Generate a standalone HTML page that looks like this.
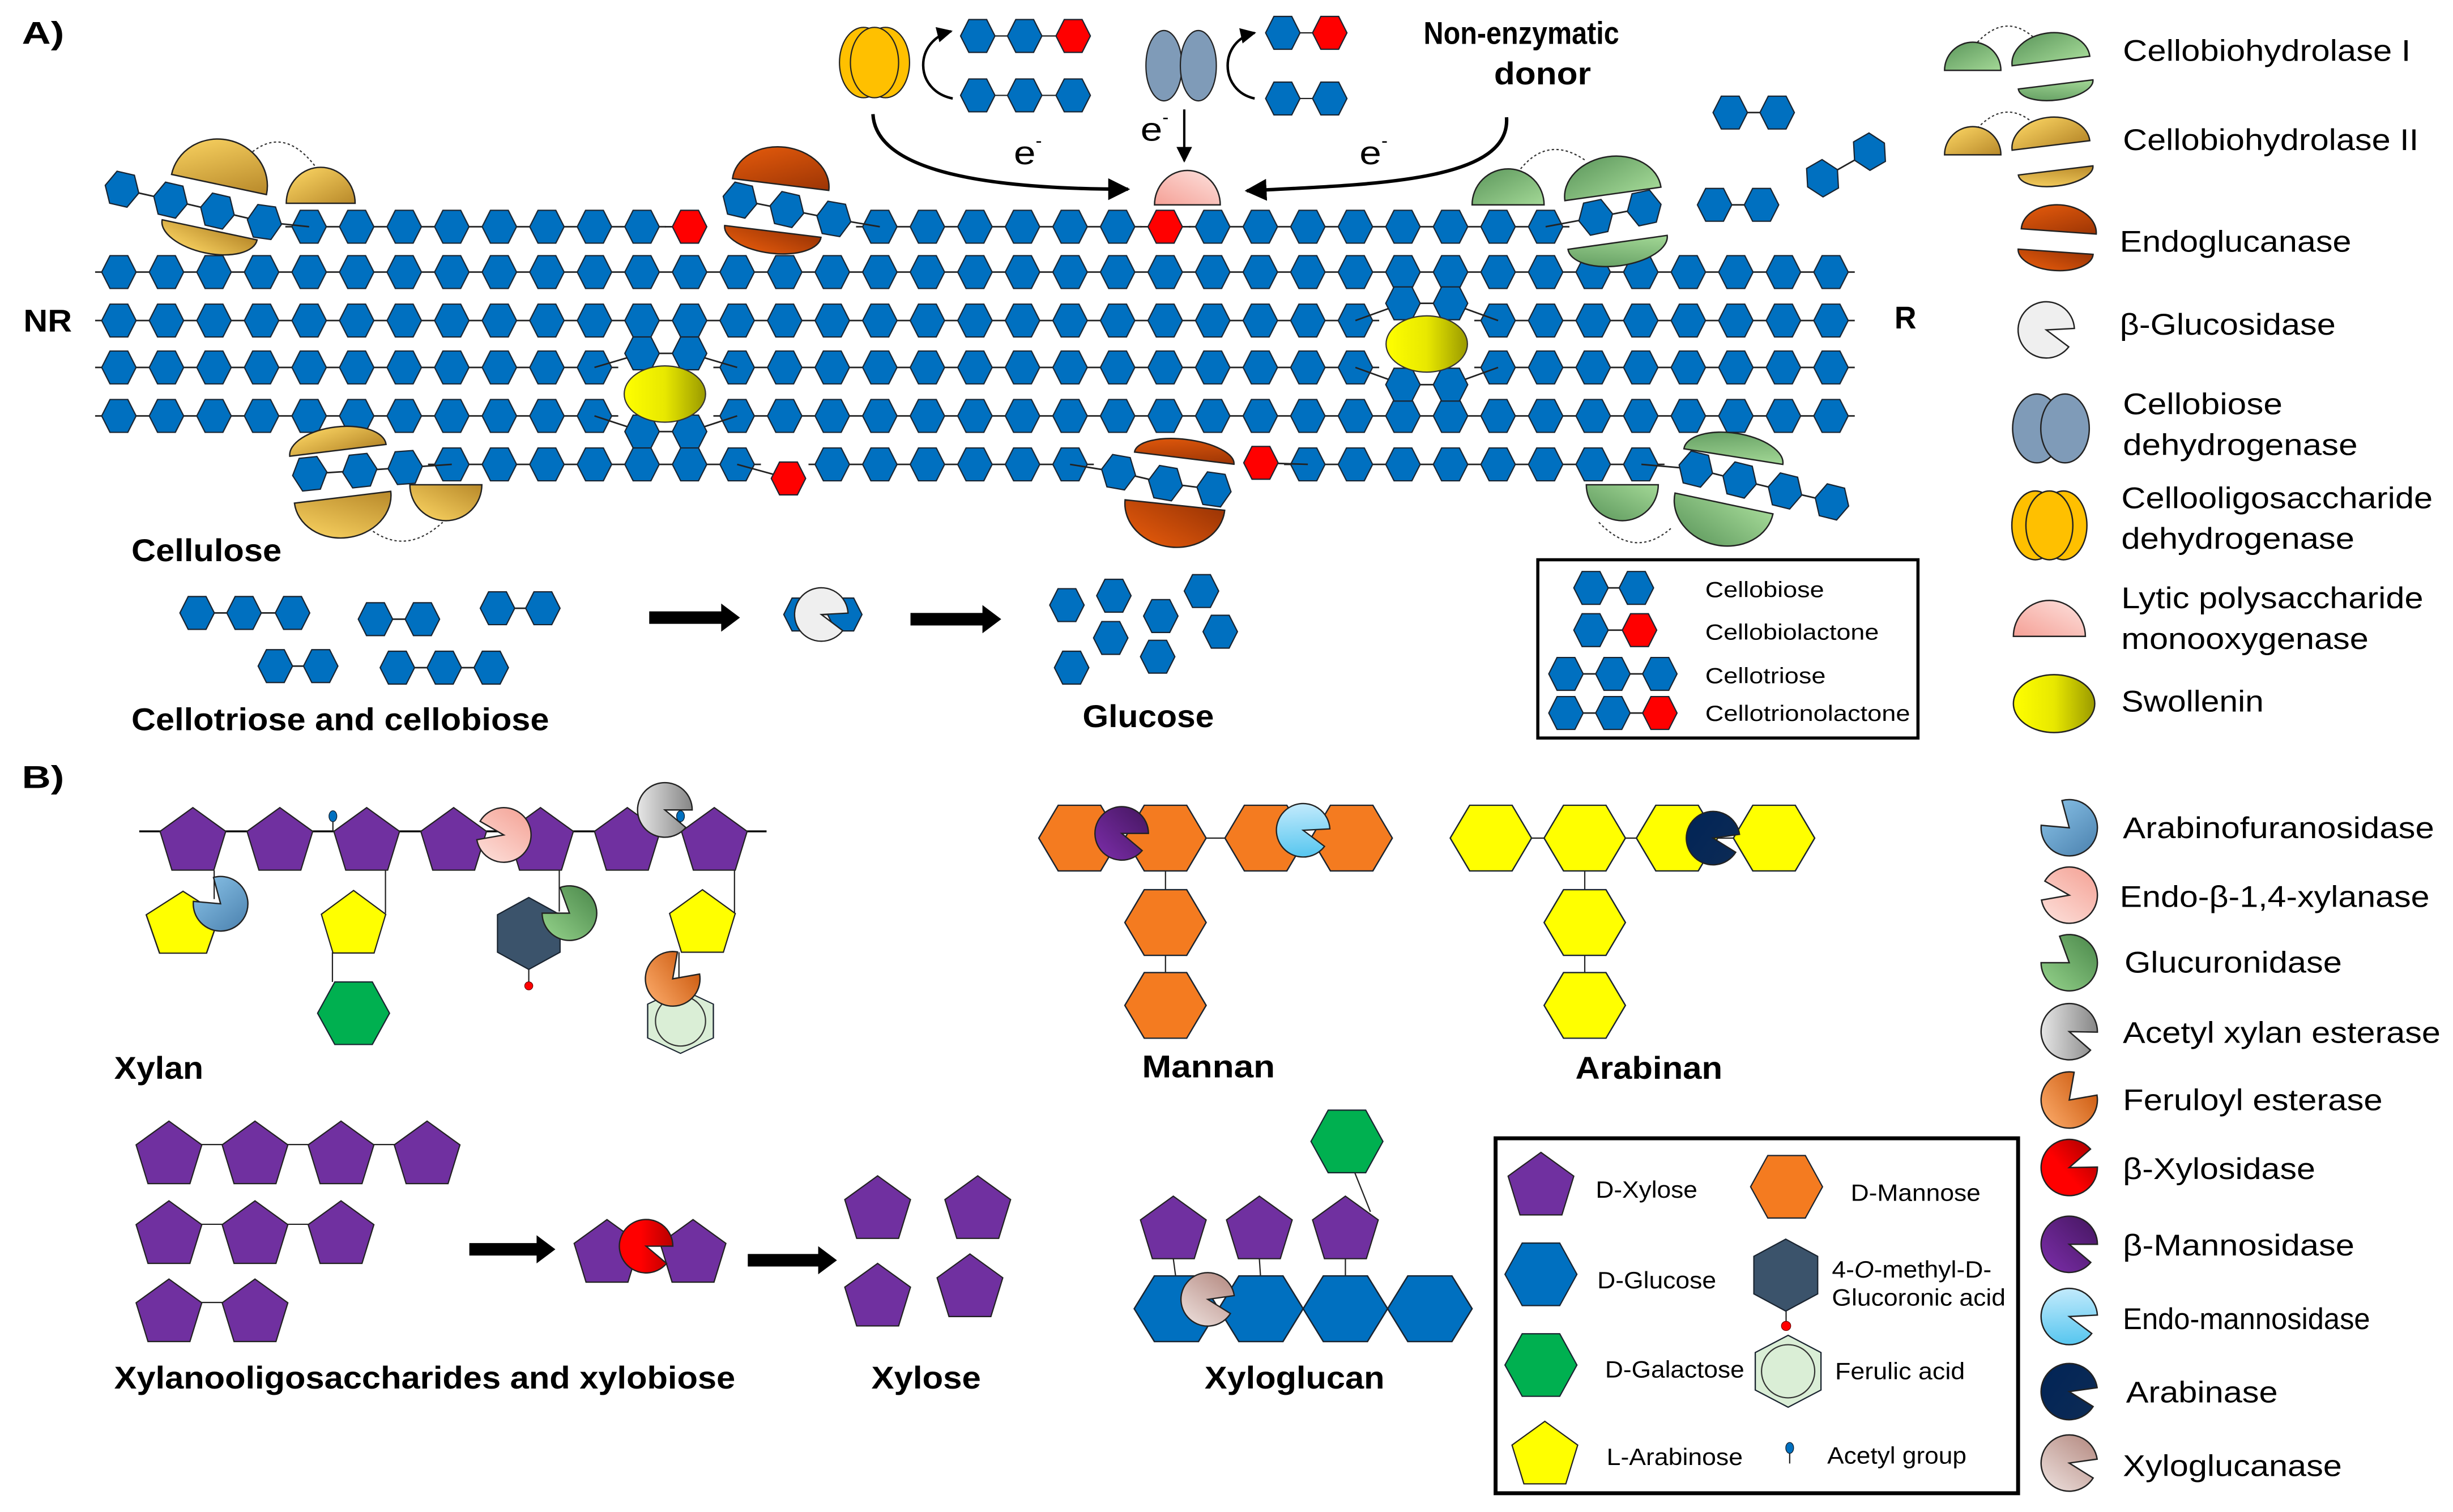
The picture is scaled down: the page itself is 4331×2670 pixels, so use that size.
<!DOCTYPE html>
<html><head><meta charset="utf-8"><style>
html,body{margin:0;padding:0;background:#fff;}
svg{display:block;}
text{font-family:"Liberation Sans",Arial,sans-serif;fill:#000;}
.b{font-weight:bold;font-size:20px;}
.l{font-size:19px;}
.s{font-size:14px;}
.m{font-size:15px;}
</style></head><body>
<svg xmlns="http://www.w3.org/2000/svg" xmlns:xlink="http://www.w3.org/1999/xlink" width="4331" height="2670" viewBox="0 0 1568 967" preserveAspectRatio="none">
<defs>
<linearGradient id="gold" x1="0" y1="0" x2="1" y2="1"><stop offset="0" stop-color="#ffd966"/><stop offset="1" stop-color="#b8892a"/></linearGradient>
<linearGradient id="orng" x1="0" y1="0" x2="1" y2="1"><stop offset="0" stop-color="#ea5d0c"/><stop offset="1" stop-color="#9c3505"/></linearGradient>
<linearGradient id="grn" x1="0" y1="0" x2="1" y2="1"><stop offset="0" stop-color="#5b965b"/><stop offset="1" stop-color="#a3d896"/></linearGradient>
<linearGradient id="yel" x1="0" y1="0" x2="1" y2="0"><stop offset="0" stop-color="#ffff00"/><stop offset="0.5" stop-color="#e8e800"/><stop offset="1" stop-color="#9a9a00"/></linearGradient>
<linearGradient id="pink" x1="0" y1="1" x2="1" y2="0"><stop offset="0" stop-color="#f5a096"/><stop offset="1" stop-color="#fde2de"/></linearGradient>
<linearGradient id="gArab" x1="0" y1="0" x2="1" y2="1"><stop offset="0" stop-color="#4a80ad"/><stop offset="1" stop-color="#8cc5ea"/></linearGradient>
<linearGradient id="gXyl" x1="0" y1="1" x2="1" y2="0"><stop offset="0" stop-color="#f4a093"/><stop offset="1" stop-color="#fde2dd"/></linearGradient>
<linearGradient id="gGlu" x1="0" y1="1" x2="1" y2="0"><stop offset="0" stop-color="#4a874a"/><stop offset="1" stop-color="#96d48c"/></linearGradient>
<linearGradient id="gAce" x1="0" y1="0" x2="1" y2="0"><stop offset="0" stop-color="#e6e6e6"/><stop offset="1" stop-color="#858585"/></linearGradient>
<linearGradient id="gFer" x1="0" y1="0" x2="1" y2="1"><stop offset="0" stop-color="#ffb070"/><stop offset="1" stop-color="#c44d00"/></linearGradient>
<linearGradient id="gBx" x1="0" y1="0" x2="1" y2="0"><stop offset="0.4" stop-color="#ff0000"/><stop offset="1" stop-color="#b80000"/></linearGradient>
<linearGradient id="gMan" x1="0" y1="1" x2="1" y2="0"><stop offset="0" stop-color="#7d2eab"/><stop offset="1" stop-color="#44165f"/></linearGradient>
<linearGradient id="gEm" x1="0" y1="0" x2="0" y2="1"><stop offset="0" stop-color="#c2eafc"/><stop offset="1" stop-color="#56c6ef"/></linearGradient>
<linearGradient id="gAra" x1="0" y1="0" x2="1" y2="1"><stop offset="0" stop-color="#012456"/><stop offset="1" stop-color="#0d2b55"/></linearGradient>
<linearGradient id="gXg" x1="0" y1="1" x2="1" y2="0"><stop offset="0" stop-color="#efe3e0"/><stop offset="1" stop-color="#b2867d"/></linearGradient>
<marker id="ah" viewBox="0 0 10 10" refX="9" refY="5" markerUnits="userSpaceOnUse" markerWidth="14" markerHeight="14" orient="auto"><path d="M0,0 L10,5 L0,10 z" fill="#000"/></marker>
<marker id="ahs" viewBox="0 0 10 10" refX="9" refY="5" markerUnits="userSpaceOnUse" markerWidth="10" markerHeight="10" orient="auto"><path d="M0,0 L10,5 L0,10 z" fill="#000"/></marker>
<polygon id="h" points="-11,0 -5.7,-10.5 5.7,-10.5 11,0 5.7,10.5 -5.7,10.5" stroke="#1a2430" stroke-width="0.8"/>
<polygon id="H" points="-23,0 -12,-20 12,-20 23,0 12,20 -12,20" stroke="#1a2430" stroke-width="0.8"/>
<polygon id="V" points="0,-23 20,-12 20,12 0,23 -20,12 -20,-12" stroke="#1a2430" stroke-width="0.8"/>
<polygon id="P" points="0,0 21,15.2 13.4,40 -13.4,40 -21,15.2" stroke="#222" stroke-width="0.8"/>
<path id="pc" d="M0,0 L18,0 A18,18 0 1 0 13.79,11.57 Z" stroke="#222" stroke-width="0.9"/>
<path id="pw" d="M0,0 L18,0 A18,18 0 1 0 6.16,16.91 Z" stroke="#222" stroke-width="0.9"/>
<pattern id="rowP" patternUnits="userSpaceOnUse" x="60.8" y="-15" width="30.4" height="30">
<line x1="0" y1="15" x2="30.4" y2="15" stroke="#222" stroke-width="1"/>
<polygon transform="translate(15.2,15)" points="-11,0 -5.7,-10.5 5.7,-10.5 11,0 5.7,10.5 -5.7,10.5" fill="#0070c0" stroke="#1a2430" stroke-width="0.8"/>
</pattern>
</defs>

<!-- ===== cellulose rows ===== -->
<g transform="translate(0,174)"><rect x="60.8" y="-12" width="1124.8" height="24" fill="url(#rowP)"/></g>
<g transform="translate(0,205)"><rect x="60.8" y="-12" width="820.8" height="24" fill="url(#rowP)"/><rect x="942.4" y="-12" width="243.2" height="24" fill="url(#rowP)"/></g>
<g transform="translate(0,235)"><rect x="60.8" y="-12" width="334.4" height="24" fill="url(#rowP)"/><rect x="456" y="-12" width="425.6" height="24" fill="url(#rowP)"/><rect x="942.4" y="-12" width="243.2" height="24" fill="url(#rowP)"/></g>
<g transform="translate(0,266)"><rect x="60.8" y="-12" width="334.4" height="24" fill="url(#rowP)"/><rect x="456" y="-12" width="729.6" height="24" fill="url(#rowP)"/></g>
<g stroke="#222" stroke-width="1" fill="none">
<polyline points="866.4,205 896.8,194 927.2,194 957.6,205"/>
<polyline points="866.4,235 896.8,246 927.2,246 957.6,235"/>
<polyline points="380,235 410.4,226 440.8,226 471.2,235"/>
<polyline points="380,266 410.4,276 440.8,276 471.2,266"/>
</g>
<use href="#h" x="896.8" y="194" fill="#0070c0"/><use href="#h" x="927.2" y="194" fill="#0070c0"/>
<use href="#h" x="896.8" y="246" fill="#0070c0"/><use href="#h" x="927.2" y="246" fill="#0070c0"/>
<use href="#h" x="410.4" y="226" fill="#0070c0"/><use href="#h" x="440.8" y="226" fill="#0070c0"/>
<use href="#h" x="410.4" y="276" fill="#0070c0"/><use href="#h" x="440.8" y="276" fill="#0070c0"/>

<!-- top row -->
<g transform="translate(0,145)"><rect x="182.4" y="-12" width="243.2" height="24" fill="url(#rowP)"/><rect x="547.2" y="-12" width="182.4" height="24" fill="url(#rowP)"/><rect x="760" y="-12" width="243.2" height="24" fill="url(#rowP)"/></g>
<g stroke="#222" stroke-width="1" fill="none">
<polyline points="78,121 109,128 139,135 169,142 197.6,145"/>
<line x1="425" y1="145" x2="440.8" y2="145"/>
<polyline points="473,128 503,134 533,140 562.4,145"/>
<line x1="729" y1="145" x2="761" y2="145"/>
<polyline points="988,145 1020,139 1051,133"/>
</g>
<use href="#h" transform="translate(78,121) rotate(13)" fill="#0070c0"/>
<use href="#h" transform="translate(109,128) rotate(13)" fill="#0070c0"/>
<use href="#h" transform="translate(139,135) rotate(13)" fill="#0070c0"/>
<use href="#h" transform="translate(169,142) rotate(8)" fill="#0070c0"/>
<use href="#h" x="440.8" y="145" fill="#ff0000"/>
<use href="#h" transform="translate(473,128) rotate(13)" fill="#0070c0"/>
<use href="#h" transform="translate(503,134) rotate(13)" fill="#0070c0"/>
<use href="#h" transform="translate(533,140) rotate(10)" fill="#0070c0"/>
<use href="#h" x="744.8" y="145" fill="#ff0000"/>
<use href="#h" transform="translate(1020,139) rotate(-12)" fill="#0070c0"/>
<use href="#h" transform="translate(1051,133) rotate(-12)" fill="#0070c0"/>

<!-- bottom row -->
<g transform="translate(0,297)"><rect x="273.6" y="-12" width="212.8" height="24" fill="url(#rowP)"/><rect x="516.8" y="-12" width="182.4" height="24" fill="url(#rowP)"/><rect x="820.8" y="-12" width="243.2" height="24" fill="url(#rowP)"/></g>
<g stroke="#222" stroke-width="1" fill="none">
<polyline points="198,303 230,301 259,299 288.8,297"/>
<line x1="471.2" y1="297" x2="504" y2="306"/>
<polyline points="684,297 715,302 745,309 776,313"/>
<line x1="806" y1="296" x2="836" y2="297"/>
<polyline points="1049.2,297 1084,300 1112,307 1141,314 1171,321"/>
</g>
<use href="#h" transform="translate(198,303) rotate(-6)" fill="#0070c0"/>
<use href="#h" transform="translate(230,301) rotate(-6)" fill="#0070c0"/>
<use href="#h" transform="translate(259,299) rotate(-4)" fill="#0070c0"/>
<use href="#h" x="504" y="306" fill="#ff0000"/>
<use href="#h" transform="translate(715,302) rotate(10)" fill="#0070c0"/>
<use href="#h" transform="translate(745,309) rotate(10)" fill="#0070c0"/>
<use href="#h" transform="translate(776,313) rotate(8)" fill="#0070c0"/>
<use href="#h" x="806" y="296" fill="#ff0000"/>
<use href="#h" transform="translate(1084,300) rotate(14)" fill="#0070c0"/>
<use href="#h" transform="translate(1112,307) rotate(14)" fill="#0070c0"/>
<use href="#h" transform="translate(1141,314) rotate(14)" fill="#0070c0"/>
<use href="#h" transform="translate(1171,321) rotate(14)" fill="#0070c0"/>

<!-- free cellobiose -->
<g stroke="#222" stroke-width="1"><line x1="1106" y1="72" x2="1136" y2="72"/><line x1="1096" y1="131" x2="1126" y2="131"/><line x1="1165" y1="114" x2="1195" y2="97"/></g>
<use href="#h" x="1106" y="72" fill="#0070c0"/><use href="#h" x="1136" y="72" fill="#0070c0"/>
<use href="#h" x="1096" y="131" fill="#0070c0"/><use href="#h" x="1126" y="131" fill="#0070c0"/>
<use href="#h" transform="translate(1165,114) rotate(-30)" fill="#0070c0"/><use href="#h" transform="translate(1195,97) rotate(-30)" fill="#0070c0"/>

<!-- swollenins -->
<ellipse cx="425" cy="252" rx="26" ry="18" fill="url(#yel)" stroke="#333" stroke-width="0.8"/>
<ellipse cx="912" cy="220" rx="26" ry="18" fill="url(#yel)" stroke="#333" stroke-width="0.8"/>

<!-- enzyme pieces -->
<g stroke="#222" stroke-width="0.9">
<path d="M157,101 Q180,78 202,107" fill="none" stroke="#333" stroke-width="0.8" stroke-dasharray="1.5,1.5"/>
<path d="M-31,0 A31,29 0 0 1 31,0 Z" transform="translate(140,118) rotate(12)" fill="url(#gold)"/>
<path d="M-31,0 A31,15 0 0 1 31,0 Z" transform="translate(134,147) rotate(12) scale(1,-1)" fill="url(#gold)"/>
<path d="M-22,0 A22,23 0 0 1 22,0 Z" transform="translate(205,130)" fill="url(#gold)"/>

<path d="M-31,0 A31,24 0 0 1 31,0 Z" transform="translate(499,118) rotate(7)" fill="url(#orng)"/>
<path d="M-31,0 A31,14 0 0 1 31,0 Z" transform="translate(494,148) rotate(7) scale(1,-1)" fill="url(#orng)"/>

<path d="M-21,0 A21,22 0 0 1 21,0 Z" transform="translate(759,131)" fill="url(#pink)"/>

<path d="M972,108 Q990,86 1014,103" fill="none" stroke="#333" stroke-width="0.8" stroke-dasharray="1.5,1.5"/>
<path d="M-23,0 A23,23 0 0 1 23,0 Z" transform="translate(964,131)" fill="url(#grn)"/>
<path d="M-31,0 A31,24 0 0 1 31,0 Z" transform="translate(1031,124) rotate(-8)" fill="url(#grn)"/>
<path d="M-32,0 A32,15 0 0 1 32,0 Z" transform="translate(1034,155) rotate(-8) scale(1,-1)" fill="url(#grn)"/>

<path d="M-32,0 A32,12 0 0 1 32,0 Z" transform="translate(757,293) rotate(7)" fill="url(#orng)"/>
<path d="M-32,0 A32,27 0 0 1 32,0 Z" transform="translate(751,323) rotate(6) scale(1,-1)" fill="url(#orng)"/>

<path d="M236,338 Q259,356 283,334" fill="none" stroke="#333" stroke-width="0.8" stroke-dasharray="1.5,1.5"/>
<path d="M-31,0 A31,15 0 0 1 31,0 Z" transform="translate(216,288) rotate(-7)" fill="url(#gold)"/>
<path d="M-31,0 A31,26 0 0 1 31,0 Z" transform="translate(219,318) rotate(-7) scale(1,-1)" fill="url(#gold)"/>
<path d="M-23,0 A23,23 0 0 1 23,0 Z" transform="translate(285,310) scale(1,-1)" fill="url(#gold)"/>

<path d="M1022,334 Q1045,358 1068,338" fill="none" stroke="#333" stroke-width="0.8" stroke-dasharray="1.5,1.5"/>
<path d="M-32,0 A32,15 0 0 1 32,0 Z" transform="translate(1108,292) rotate(9)" fill="url(#grn)"/>
<path d="M-32,0 A32,27 0 0 1 32,0 Z" transform="translate(1102,322) rotate(12) scale(1,-1)" fill="url(#grn)"/>
<path d="M-23,0 A23,23 0 0 1 23,0 Z" transform="translate(1037,310) scale(1,-1)" fill="url(#grn)"/>
</g>

<!-- CODH & CDH top -->
<g stroke="#222" stroke-width="0.8">
<ellipse cx="552" cy="40" rx="15.4" ry="22.5" fill="#ffc000"/>
<ellipse cx="566" cy="40" rx="15.4" ry="22.5" fill="#ffc000"/>
<ellipse cx="559" cy="40" rx="15.4" ry="22.5" fill="#ffc000"/>
<ellipse cx="744" cy="42" rx="11.5" ry="22.5" fill="#7f9bb8"/>
<ellipse cx="766" cy="42" rx="11.5" ry="22.5" fill="#7f9bb8"/>
<line x1="625" y1="23" x2="686" y2="23"/><line x1="625" y1="61" x2="686" y2="61"/>
<line x1="820" y1="21" x2="850" y2="21"/><line x1="820" y1="63" x2="850" y2="63"/>
</g>
<use href="#h" x="625" y="23" fill="#0070c0"/><use href="#h" x="655" y="23" fill="#0070c0"/><use href="#h" x="686" y="23" fill="#ff0000"/>
<use href="#h" x="625" y="61" fill="#0070c0"/><use href="#h" x="655" y="61" fill="#0070c0"/><use href="#h" x="686" y="61" fill="#0070c0"/>
<use href="#h" x="820" y="21" fill="#0070c0"/><use href="#h" x="850" y="21" fill="#ff0000"/>
<use href="#h" x="820" y="63" fill="#0070c0"/><use href="#h" x="850" y="63" fill="#0070c0"/>

<!-- arrows -->
<path d="M558,73 C560,112 640,121 721,121" fill="none" stroke="#000" stroke-width="2.2" marker-end="url(#ah)"/>
<path d="M757,70 L757,103" fill="none" stroke="#000" stroke-width="1.5" marker-end="url(#ahs)"/>
<path d="M963,75 C966,116 880,118 797,122" fill="none" stroke="#000" stroke-width="2.2" marker-end="url(#ah)"/>
<path d="M609,63 C584,58 584,26 608,20" fill="none" stroke="#000" stroke-width="1.6" marker-end="url(#ahs)"/>
<path d="M802,63 C779,58 779,26 802,21" fill="none" stroke="#000" stroke-width="1.6" marker-end="url(#ahs)"/>
<polygon points="415,391 461,391 461,386 473,395 461,404 461,399 415,399" fill="#000"/>
<polygon points="582,392 628,392 628,387 640,396 628,405 628,400 582,400" fill="#000"/>
<polygon points="300,795 343,795 343,790 355,799 343,808 343,803 300,803" fill="#000"/>
<polygon points="478,802 523,802 523,797 535,806 523,815 523,810 478,810" fill="#000"/>

<!-- lower A fragments -->
<g stroke="#222" stroke-width="1">
<line x1="126" y1="392" x2="187" y2="392"/><line x1="240" y1="396" x2="270" y2="396"/><line x1="318" y1="389" x2="347" y2="389"/>
<line x1="176" y1="426" x2="205" y2="426"/><line x1="254" y1="427" x2="314" y2="427"/><line x1="512" y1="393" x2="540" y2="393"/>
<line x1="1017" y1="376" x2="1046" y2="376"/><line x1="1017" y1="403" x2="1048" y2="403"/><line x1="1001" y1="431" x2="1061" y2="431"/><line x1="1001" y1="456" x2="1061" y2="456"/>
</g>
<g fill="#0070c0">
<use href="#h" x="126" y="392"/><use href="#h" x="156" y="392"/><use href="#h" x="187" y="392"/>
<use href="#h" x="240" y="396"/><use href="#h" x="270" y="396"/><use href="#h" x="318" y="389"/><use href="#h" x="347" y="389"/>
<use href="#h" x="176" y="426"/><use href="#h" x="205" y="426"/><use href="#h" x="254" y="427"/><use href="#h" x="284" y="427"/><use href="#h" x="314" y="427"/>
<use href="#h" x="512" y="393"/><use href="#h" x="540" y="393"/>
<use href="#h" x="682" y="387"/><use href="#h" x="712" y="381"/><use href="#h" x="742" y="394"/><use href="#h" x="768" y="378"/>
<use href="#h" x="710" y="408"/><use href="#h" x="780" y="404"/><use href="#h" x="740" y="420"/><use href="#h" x="685" y="427"/>
<use href="#h" x="1017" y="376"/><use href="#h" x="1046" y="376"/><use href="#h" x="1017" y="403"/>
<use href="#h" x="1001" y="431"/><use href="#h" x="1031" y="431"/><use href="#h" x="1061" y="431"/>
<use href="#h" x="1001" y="456"/><use href="#h" x="1031" y="456"/>
</g>
<use href="#h" x="1048" y="403" fill="#ff0000"/><use href="#h" x="1061" y="456" fill="#ff0000"/>
<use href="#pc" transform="translate(525,393) rotate(-3) scale(0.95)" fill="#efefef"/>

<!-- right legend A icons -->
<g stroke="#222" stroke-width="0.9">
<path d="M1264,27 Q1282,8 1300,24" fill="none" stroke="#333" stroke-width="0.8" stroke-dasharray="1.5,1.5"/>
<path d="M-18,0 A18,18 0 0 1 18,0 Z" transform="translate(1261,45)" fill="url(#grn)"/>
<path d="M-25,0 A25,18 0 0 1 25,0 Z" transform="translate(1311,39) rotate(-7)" fill="url(#grn)"/>
<path d="M-24,0 A24,10 0 0 1 24,0 Z" transform="translate(1314,54) rotate(-7) scale(1,-1)" fill="url(#grn)"/>
<path d="M1264,82 Q1282,63 1300,79" fill="none" stroke="#333" stroke-width="0.8" stroke-dasharray="1.5,1.5"/>
<path d="M-18,0 A18,18 0 0 1 18,0 Z" transform="translate(1261,99)" fill="url(#gold)"/>
<path d="M-25,0 A25,18 0 0 1 25,0 Z" transform="translate(1311,93) rotate(-7)" fill="url(#gold)"/>
<path d="M-24,0 A24,10 0 0 1 24,0 Z" transform="translate(1314,109) rotate(-7) scale(1,-1)" fill="url(#gold)"/>
<path d="M-24,0 A24,17 0 0 1 24,0 Z" transform="translate(1316,148) rotate(4)" fill="url(#orng)"/>
<path d="M-24,0 A24,12 0 0 1 24,0 Z" transform="translate(1314,161) rotate(4) scale(1,-1)" fill="url(#orng)"/>
<ellipse cx="1302" cy="274" rx="15.5" ry="22" fill="#7f9bb8"/>
<ellipse cx="1320" cy="274" rx="15.5" ry="22" fill="#7f9bb8"/>
<ellipse cx="1301" cy="336" rx="15" ry="22" fill="#ffc000"/>
<ellipse cx="1319" cy="336" rx="15" ry="22" fill="#ffc000"/>
<ellipse cx="1310" cy="336" rx="15" ry="22" fill="#ffc000"/>
<path d="M-23,0 A23,23 0 0 1 23,0 Z" transform="translate(1310,407)" fill="url(#pink)"/>
<ellipse cx="1313" cy="450" rx="26" ry="18.5" fill="url(#yel)"/>
</g>
<use href="#pc" transform="translate(1308,211) rotate(-3)" fill="#efefef"/>

<!-- ===== Part B: Xylan ===== -->
<line x1="89" y1="531.7" x2="490" y2="531.7" stroke="#000" stroke-width="1.2"/>
<g fill="#7030a0">
<use href="#P" x="123.3" y="516.5"/><use href="#P" x="178.9" y="516.5"/><use href="#P" x="234.4" y="516.5"/><use href="#P" x="290" y="516.5"/>
<use href="#P" x="345.5" y="516.5"/><use href="#P" x="401" y="516.5"/><use href="#P" x="456.6" y="516.5"/>
</g>
<g stroke="#222" stroke-width="0.8">
<line x1="212.8" y1="531.7" x2="212.8" y2="525"/>
<line x1="136.9" y1="556.7" x2="136.9" y2="575"/>
<line x1="246.4" y1="556.7" x2="246.4" y2="584"/><line x1="212.5" y1="609" x2="212.5" y2="628"/>
<line x1="357.5" y1="556.7" x2="357.5" y2="583"/><line x1="338" y1="620" x2="338" y2="629"/>
<line x1="469.5" y1="556.7" x2="469.5" y2="584"/><line x1="434" y1="609" x2="434" y2="630"/>
<line x1="435" y1="531.7" x2="435" y2="525"/>
</g>
<ellipse cx="212.8" cy="522" rx="2.5" ry="3.5" fill="#0070c0" stroke="#123" stroke-width="0.5"/>
<use href="#P" transform="translate(117,570) scale(1.12,0.99)" fill="#ffff00"/>
<use href="#pw" transform="translate(141,578) rotate(-175) scale(0.97)" fill="url(#gArab)"/>
<use href="#P" transform="translate(226,569.5) scale(0.98,1)" fill="#ffff00"/>
<use href="#H" x="226" y="648" fill="#00b050"/>
<use href="#V" x="338" y="597" fill="#3b536b"/>
<circle cx="338" cy="630.5" r="2.6" fill="#f00" stroke="#600" stroke-width="0.4"/>
<use href="#pw" transform="translate(364,584) rotate(-180) scale(0.97)" fill="url(#gGlu)"/>
<use href="#pc" transform="translate(322,534) rotate(-190) scale(0.97)" fill="url(#gXyl)"/>
<use href="#P" x="449" y="569" fill="#ffff00"/>
<use href="#V" transform="translate(435,653) scale(1.05,0.9)" fill="#daeed6"/>
<circle cx="435" cy="653" r="16" fill="none" stroke="#333" stroke-width="0.8"/>
<use href="#pw" transform="translate(430,626) rotate(-80) scale(0.97)" fill="url(#gFer)"/>
<use href="#pc" transform="translate(425,518) rotate(0) scale(0.97)" fill="url(#gAce)"/>
<ellipse cx="435" cy="522" rx="2.5" ry="3.5" fill="#0070c0" stroke="#123" stroke-width="0.5"/>

<!-- Mannan -->
<g stroke="#222" stroke-width="0.8"><line x1="690" y1="536" x2="864" y2="536"/><line x1="745" y1="536" x2="745" y2="643"/>
<line x1="953" y1="536" x2="1134" y2="536"/><line x1="1013" y1="536" x2="1013" y2="643"/></g>
<g fill="#f47b20">
<use href="#H" transform="translate(690,536) scale(1.13,1.05)"/><use href="#H" transform="translate(745,536) scale(1.13,1.05)"/>
<use href="#H" transform="translate(809,536) scale(1.13,1.05)"/><use href="#H" transform="translate(864,536) scale(1.13,1.05)"/>
<use href="#H" transform="translate(745,590) scale(1.13,1.05)"/><use href="#H" transform="translate(745,643) scale(1.13,1.05)"/>
</g>
<use href="#pc" transform="translate(717,533) scale(0.95)" fill="url(#gMan)"/>
<use href="#pc" transform="translate(833,531) rotate(-3) scale(0.95)" fill="url(#gEm)"/>
<!-- Arabinan -->
<g fill="#ffff00">
<use href="#H" transform="translate(953,536) scale(1.13,1.05)"/><use href="#H" transform="translate(1013,536) scale(1.13,1.05)"/>
<use href="#H" transform="translate(1072,536) scale(1.13,1.05)"/><use href="#H" transform="translate(1134,536) scale(1.13,1.05)"/>
<use href="#H" transform="translate(1013,590) scale(1.13,1.05)"/><use href="#H" transform="translate(1013,643) scale(1.13,1.05)"/>
</g>
<use href="#pc" transform="translate(1095,536) rotate(-8) scale(0.95)" fill="url(#gAra)"/>

<!-- Xylooligosaccharides -->
<g stroke="#222" stroke-width="0.8"><line x1="108" y1="732" x2="273" y2="732"/><line x1="108" y1="783" x2="218" y2="783"/><line x1="108" y1="833" x2="163" y2="833"/><line x1="388" y1="795" x2="443" y2="795"/></g>
<g fill="#7030a0">
<use href="#P" x="108" y="717"/><use href="#P" x="163" y="717"/><use href="#P" x="218" y="717"/><use href="#P" x="273" y="717"/>
<use href="#P" x="108" y="768"/><use href="#P" x="163" y="768"/><use href="#P" x="218" y="768"/>
<use href="#P" x="108" y="818"/><use href="#P" x="163" y="818"/>
<use href="#P" x="388" y="780"/><use href="#P" x="443" y="780"/>
<use href="#P" x="561" y="752"/><use href="#P" x="625" y="752"/><use href="#P" x="561" y="808"/><use href="#P" x="620" y="802"/>
</g>
<use href="#pc" transform="translate(413,797) scale(0.95)" fill="url(#gBx)"/>

<!-- Xyloglucan -->
<g stroke="#222" stroke-width="0.8"><line x1="752" y1="837" x2="914" y2="837"/><line x1="750" y1="805" x2="752" y2="820"/><line x1="805" y1="805" x2="806" y2="820"/><line x1="860" y1="805" x2="860" y2="820"/><line x1="866" y1="750" x2="876" y2="775"/></g>
<g fill="#7030a0"><use href="#P" x="750" y="765"/><use href="#P" x="805" y="765"/><use href="#P" x="860" y="765"/></g>
<use href="#H" x="861" y="730" fill="#00b050"/>
<g fill="#0070c0">
<use href="#H" transform="translate(752,837) scale(1.174,1.05)"/><use href="#H" transform="translate(806,837) scale(1.174,1.05)"/>
<use href="#H" transform="translate(860,837) scale(1.174,1.05)"/><use href="#H" transform="translate(914,837) scale(1.174,1.05)"/>
</g>
<use href="#pc" transform="translate(772,831) rotate(-8) scale(0.95)" fill="url(#gXg)"/>

<!-- legend B icons -->
<use href="#P" x="985" y="737" fill="#7030a0"/>
<use href="#H" x="1142" y="759" fill="#f47b20"/>
<use href="#H" x="985" y="815" fill="#0070c0"/>
<line x1="1141.7" y1="838" x2="1141.7" y2="845" stroke="#222" stroke-width="0.8"/>
<use href="#V" transform="translate(1141.5,815.5) scale(1.02,1)" fill="#3b536b"/>
<circle cx="1141.7" cy="848" r="3" fill="#f00" stroke="#600" stroke-width="0.4"/>
<use href="#H" x="985" y="873" fill="#00b050"/>
<use href="#V" transform="translate(1143,877) scale(1.05,1)" fill="#daeed6"/>
<circle cx="1143" cy="877" r="17" fill="none" stroke="#333" stroke-width="0.8"/>
<use href="#P" x="987.5" y="909" fill="#ffff00"/>
<line x1="1144" y1="929" x2="1144" y2="936" stroke="#222" stroke-width="0.8"/>
<ellipse cx="1144" cy="926" rx="2.5" ry="3.5" fill="#0070c0" stroke="#123" stroke-width="0.5"/>

<!-- right legend B icons -->
<use href="#pw" transform="translate(1322.7,529.4) rotate(-175)" fill="url(#gArab)"/>
<use href="#pc" transform="translate(1322.7,572.5) rotate(-190)" fill="url(#gXyl)"/>
<use href="#pw" transform="translate(1322.7,615.7) rotate(-180)" fill="url(#gGlu)"/>
<use href="#pc" transform="translate(1322.7,659.8) rotate(1)" fill="url(#gAce)"/>
<use href="#pw" transform="translate(1322.7,703.5) rotate(-80)" fill="url(#gFer)"/>
<use href="#pc" transform="translate(1322.7,746.7) rotate(-41)" fill="url(#gBx)"/>
<use href="#pc" transform="translate(1322.7,795.8)" fill="url(#gMan)"/>
<use href="#pc" transform="translate(1322.7,842) rotate(-3)" fill="url(#gEm)"/>
<use href="#pc" transform="translate(1322.7,890) rotate(-8)" fill="url(#gAra)"/>
<use href="#pc" transform="translate(1322.7,935.7) rotate(-8)" fill="url(#gXg)"/>

<!-- legend boxes -->
<rect x="983" y="358" width="243" height="114" fill="none" stroke="#000" stroke-width="2"/>
<rect x="956" y="728" width="334" height="227" fill="none" stroke="#000" stroke-width="2.5"/>

<!-- texts -->
<text class="b" x="14" y="28" textLength="27" lengthAdjust="spacingAndGlyphs">A)</text>
<text class="b" x="14" y="504" textLength="27" lengthAdjust="spacingAndGlyphs">B)</text>
<text class="b" x="15" y="212" textLength="31" lengthAdjust="spacingAndGlyphs">NR</text>
<text class="b" x="1211" y="210" textLength="14" lengthAdjust="spacingAndGlyphs">R</text>
<text class="b" x="910" y="28" textLength="125" lengthAdjust="spacingAndGlyphs">Non-enzymatic</text>
<text class="b" x="955" y="54" textLength="62" lengthAdjust="spacingAndGlyphs">donor</text>
<text x="648" y="105" font-size="21" textLength="14" lengthAdjust="spacingAndGlyphs">e</text><text x="662" y="94" font-size="12">-</text>
<text x="729" y="90" font-size="21" textLength="14" lengthAdjust="spacingAndGlyphs">e</text><text x="743" y="79" font-size="12">-</text>
<text x="869" y="105" font-size="21" textLength="14" lengthAdjust="spacingAndGlyphs">e</text><text x="883" y="94" font-size="12">-</text>
<text class="b" x="84" y="359" textLength="96" lengthAdjust="spacingAndGlyphs">Cellulose</text>
<text class="b" x="84" y="467" textLength="267" lengthAdjust="spacingAndGlyphs">Cellotriose and cellobiose</text>
<text class="b" x="692" y="465" textLength="84" lengthAdjust="spacingAndGlyphs">Glucose</text>
<text class="s" x="1090" y="382" textLength="76" lengthAdjust="spacingAndGlyphs">Cellobiose</text>
<text class="s" x="1090" y="409" textLength="111" lengthAdjust="spacingAndGlyphs">Cellobiolactone</text>
<text class="s" x="1090" y="437" textLength="77" lengthAdjust="spacingAndGlyphs">Cellotriose</text>
<text class="s" x="1090" y="461" textLength="131" lengthAdjust="spacingAndGlyphs">Cellotrionolactone</text>

<text class="l" x="1357" y="39" textLength="184" lengthAdjust="spacingAndGlyphs">Cellobiohydrolase I</text>
<text class="l" x="1357" y="96" textLength="189" lengthAdjust="spacingAndGlyphs">Cellobiohydrolase II</text>
<text class="l" x="1355" y="161" textLength="148" lengthAdjust="spacingAndGlyphs">Endoglucanase</text>
<text class="l" x="1355" y="214" textLength="138" lengthAdjust="spacingAndGlyphs">β-Glucosidase</text>
<text class="l" x="1357" y="265" textLength="102" lengthAdjust="spacingAndGlyphs">Cellobiose</text>
<text class="l" x="1357" y="291" textLength="150" lengthAdjust="spacingAndGlyphs">dehydrogenase</text>
<text class="l" x="1356" y="325" textLength="199" lengthAdjust="spacingAndGlyphs">Cellooligosaccharide</text>
<text class="l" x="1356" y="351" textLength="149" lengthAdjust="spacingAndGlyphs">dehydrogenase</text>
<text class="l" x="1356" y="389" textLength="193" lengthAdjust="spacingAndGlyphs">Lytic polysaccharide</text>
<text class="l" x="1356" y="415" textLength="158" lengthAdjust="spacingAndGlyphs">monooxygenase</text>
<text class="l" x="1356" y="455" textLength="91" lengthAdjust="spacingAndGlyphs">Swollenin</text>

<text class="l" x="1357" y="536" textLength="199" lengthAdjust="spacingAndGlyphs">Arabinofuranosidase</text>
<text class="l" x="1355" y="580" textLength="198" lengthAdjust="spacingAndGlyphs">Endo-β-1,4-xylanase</text>
<text class="l" x="1358" y="622" textLength="139" lengthAdjust="spacingAndGlyphs">Glucuronidase</text>
<text class="l" x="1357" y="667" textLength="203" lengthAdjust="spacingAndGlyphs">Acetyl xylan esterase</text>
<text class="l" x="1357" y="710" textLength="166" lengthAdjust="spacingAndGlyphs">Feruloyl esterase</text>
<text class="l" x="1357" y="754" textLength="123" lengthAdjust="spacingAndGlyphs">β-Xylosidase</text>
<text class="l" x="1357" y="803" textLength="148" lengthAdjust="spacingAndGlyphs">β-Mannosidase</text>
<text class="l" x="1357" y="850" textLength="158" lengthAdjust="spacingAndGlyphs">Endo-mannosidase</text>
<text class="l" x="1359" y="897" textLength="97" lengthAdjust="spacingAndGlyphs">Arabinase</text>
<text class="l" x="1357" y="944" textLength="140" lengthAdjust="spacingAndGlyphs">Xyloglucanase</text>

<text class="b" x="73" y="690" textLength="57" lengthAdjust="spacingAndGlyphs">Xylan</text>
<text class="b" x="730" y="689" textLength="85" lengthAdjust="spacingAndGlyphs">Mannan</text>
<text class="b" x="1007" y="690" textLength="94" lengthAdjust="spacingAndGlyphs">Arabinan</text>
<text class="b" x="73" y="888" textLength="397" lengthAdjust="spacingAndGlyphs">Xylanooligosaccharides and xylobiose</text>
<text class="b" x="557" y="888" textLength="70" lengthAdjust="spacingAndGlyphs">Xylose</text>
<text class="b" x="770" y="888" textLength="115" lengthAdjust="spacingAndGlyphs">Xyloglucan</text>

<text class="m" x="1020" y="766" textLength="65" lengthAdjust="spacingAndGlyphs">D-Xylose</text>
<text class="m" x="1183" y="768" textLength="83" lengthAdjust="spacingAndGlyphs">D-Mannose</text>
<text class="m" x="1021" y="824" textLength="76" lengthAdjust="spacingAndGlyphs">D-Glucose</text>
<text class="m" x="1171" y="817" textLength="102" lengthAdjust="spacingAndGlyphs">4-<tspan font-style="italic">O</tspan>-methyl-D-</text>
<text class="m" x="1171" y="835" textLength="111" lengthAdjust="spacingAndGlyphs">Glucoronic acid</text>
<text class="m" x="1026" y="881" textLength="89" lengthAdjust="spacingAndGlyphs">D-Galactose</text>
<text class="m" x="1173" y="882" textLength="83" lengthAdjust="spacingAndGlyphs">Ferulic acid</text>
<text class="m" x="1027" y="937" textLength="87" lengthAdjust="spacingAndGlyphs">L-Arabinose</text>
<text class="m" x="1168" y="936" textLength="89" lengthAdjust="spacingAndGlyphs">Acetyl group</text>
</svg>
</body></html>
